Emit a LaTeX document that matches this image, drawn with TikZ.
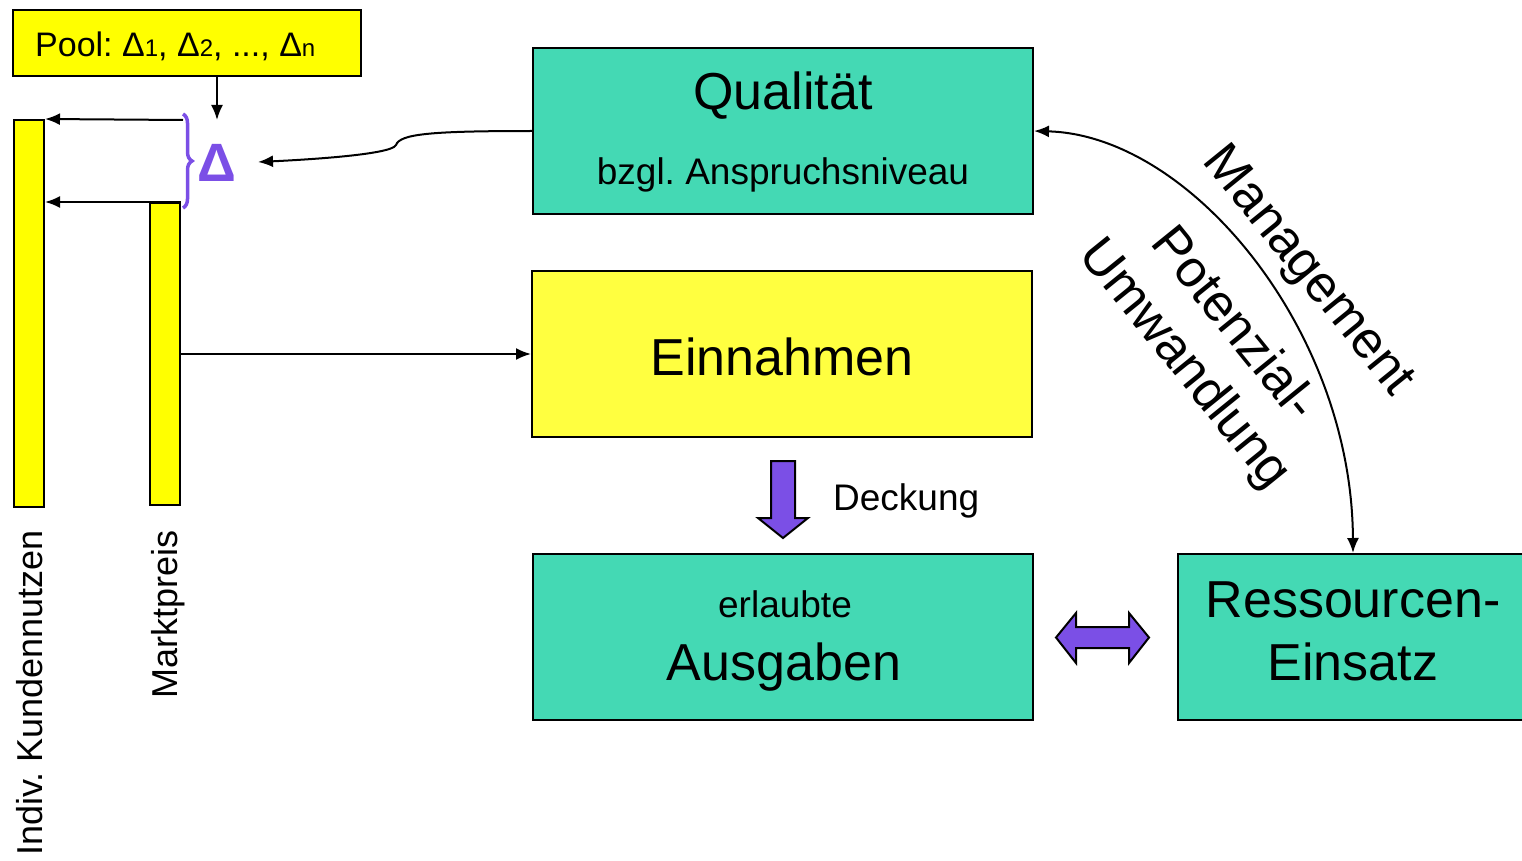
\documentclass[tikz,border=0pt]{standalone}
\usepackage{fontspec}
\setmainfont{Liberation Sans}
\usetikzlibrary{arrows.meta,decorations.pathreplacing}
\definecolor{tuerkis}{HTML}{44D9B4}
\definecolor{gelb}{HTML}{FFFF00}
\definecolor{hellgelb}{HTML}{FFFF40}
\definecolor{lila}{HTML}{7B4FE6}
\newcommand\tief[1]{{\fontsize{24}{28}\selectfont #1}}
\frenchspacing
\begin{document}
\begin{tikzpicture}[x=1pt, y=-1pt,
  box/.style={draw, line width=2pt, minimum width=500pt, minimum height=166pt, inner sep=0pt},
  bar/.style={draw, line width=2pt, fill=gelb, minimum width=30pt, inner sep=0pt},
  pfeil/.style={line width=2pt, >={Latex[length=15pt,width=12pt]}},
  gross/.style={font=\fontsize{52}{60}\selectfont, anchor=base, inner sep=0pt},
  klein/.style={font=\fontsize{37}{44}\selectfont, anchor=base, inner sep=0pt},
  schraeg/.style={font=\fontsize{52}{63}\selectfont, rotate=-51, inner sep=0pt, align=center},
  senkrecht/.style={font=\fontsize{36}{40}\selectfont, rotate=90, anchor=base east, inner sep=0pt}]
\useasboundingbox (0,0) rectangle (1522,861);

% Boxes
\node[box, fill=tuerkis] (qual) at (783,131) {};
\node[box, fill=hellgelb] (einn) at (782,354) {};
\node[box, fill=tuerkis] (ausg) at (783,637) {};
\node[box, fill=tuerkis, minimum width=350pt] (ress) at (1353,637) {};
\node[draw, line width=2pt, fill=gelb, minimum width=348pt, minimum height=66pt, inner sep=0pt] (pool) at (187,43) {};

% Bars
\node[bar, minimum height=387pt] (indiv) at (29,313.5) {};
\node[bar, minimum height=302pt] (markt) at (165,354) {};

% Texts in the boxes
\node[gross] (qualtxt) at (783,110) {Qualität};
\node[klein] (bzgltxt) at (783,185) {bzgl. Anspruchsniveau};
\node[gross] (einntxt) at (782,375) {Einnahmen};
\node[klein] (erltxt) at (785,617) {erlaubte};
\node[gross] (ausgtxt) at (784,680) {Ausgaben};
\node[gross] (resstxt) at (1353,617) {Ressourcen-};
\node[gross] (einstxt) at (1353,680) {Einsatz};
\node[font=\fontsize{34}{40}\selectfont, anchor=base west, inner sep=0pt] (pooltxt) at (35,57) {Pool: Δ\tief{1}, Δ\tief{2}, ..., Δ\tief{n}};

% Delta and brace
\node[font=\fontsize{54}{60}\selectfont\bfseries, text=lila, anchor=base, inner sep=0pt] (delta) at (217,182) {Δ};
\draw[lila, line width=3.5pt, decorate, decoration={brace, amplitude=9pt}] (183,114) -- (183,208);

% Connectors
\coordinate (oben) at (183,120);
\coordinate (ziel) at (258,162);
\draw[pfeil, ->] (pool.south -| delta) -- (delta |- oben);
\draw[pfeil, ->] (oben) -- (indiv.north east);
\draw[pfeil, ->] (markt.north east) -- (markt.north east -| indiv.east);
\draw[pfeil, ->] (markt.east) -- (einn.west);
\draw[pfeil, ->] (qual.west) .. controls (430,131) and (400,134) .. (396,145) .. controls (392,155) and (300,160) .. (ziel);
\draw[pfeil, <->] (qual.east) .. controls (1190,135) and (1352,330) .. (ress.north);

% Block arrows
\draw[line width=2pt, fill=lila] (771,461) -- (795,461) -- (795,518) -- (808,518) -- (783,538) -- (758,518) -- (771,518) -- cycle;
\draw[line width=2pt, fill=lila] (1056,637.5) -- (1076,613) -- (1076,627) -- (1129,627) -- (1129,613) -- (1149,637.5) -- (1129,663) -- (1129,648) -- (1076,648) -- (1076,663) -- cycle;
\node[klein, anchor=base west] (decktxt) at (833,510) {Deckung};

% Labels
\node[schraeg] (mgmt) at (1307,272) {Management};
\node[schraeg] (umw) at (1208,345) {Potenzial-\\Umwandlung};
\node[senkrecht] (kundlab) at (42,530) {Indiv. Kundennutzen};
\node[senkrecht] (marktlab) at (177,530) {Marktpreis};
\end{tikzpicture}
\end{document}
